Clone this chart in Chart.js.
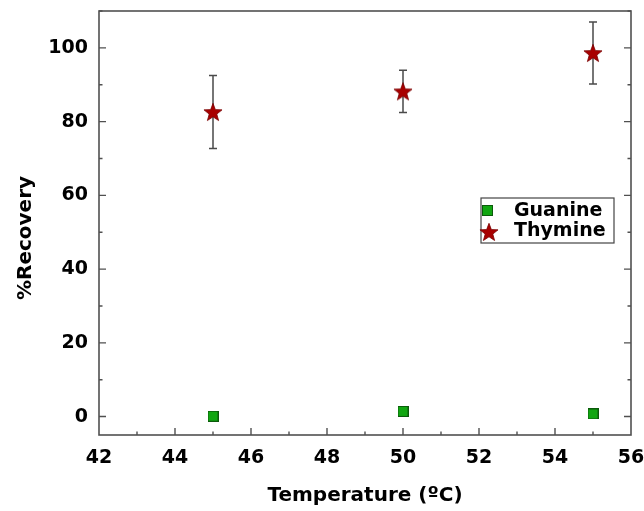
<!DOCTYPE html>
<html>
<head>
<meta charset="utf-8">
<script src="https://cdn.jsdelivr.net/npm/chart.js@4.4.1/dist/chart.umd.min.js"></script>
<style>
html,body{margin:0;padding:0;background:#fff;}
#wrap{width:644px;height:511px;}
</style>
</head>
<body>
<div id="wrap"><canvas id="c" width="644" height="511"></canvas></div>
<script>
// ---- data ----
const temperatures = [45, 50, 55];
const guanineRecovery = [0.1, 1.4, 0.7];
const guanineError = [0.0, 1.0, 1.0];
const thymineRecovery = [82.6, 88.2, 98.6];
const thymineError = [9.9, 5.7, 8.4];
const xTicks = [42, 44, 46, 48, 50, 52, 54, 56];
const yTicks = [0, 20, 40, 60, 80, 100];

const FONT = '"DejaVu Sans", Verdana, sans-serif';

function makeStar(size, fill) {
  const c = document.createElement('canvas');
  c.width = size; c.height = size;
  const g = c.getContext('2d');
  const cx = size / 2, cy = size / 2 + size * 0.04;
  const R = size / 2 - 0.5, r = R * 0.42;
  g.beginPath();
  for (let i = 0; i < 10; i++) {
    const a = -Math.PI / 2 + i * Math.PI / 5;
    const rr = i % 2 === 0 ? R : r;
    const x = cx + rr * Math.cos(a), y = cy + rr * Math.sin(a);
    if (i === 0) g.moveTo(x, y); else g.lineTo(x, y);
  }
  g.closePath();
  g.fillStyle = fill; g.fill();
  g.strokeStyle = '#7a0000'; g.lineWidth = 0.8; g.stroke();
  return c;
}
function makeSquare(size, fill) {
  const c = document.createElement('canvas');
  c.width = size; c.height = size;
  const g = c.getContext('2d');
  g.fillStyle = fill; g.fillRect(0.5, 0.5, size - 1, size - 1);
  g.strokeStyle = '#0b5a0b'; g.lineWidth = 1; g.strokeRect(0.5, 0.5, size - 1, size - 1);
  return c;
}
const starImg = makeStar(20, '#a80000');
const squareImg = makeSquare(11, '#11a611');

const guanineData = temperatures.map((t, i) => ({x: t, y: guanineRecovery[i], e: guanineError[i]}));
const thymineData = temperatures.map((t, i) => ({x: t, y: thymineRecovery[i], e: thymineError[i]}));

const errorBars = {
  id: 'errorBars',
  beforeDatasetsDraw(chart) {
    const g = chart.ctx, ys = chart.scales.y;
    g.save();
    g.strokeStyle = '#4a4a4a'; g.lineWidth = 1.5;
    chart.data.datasets.forEach((ds, di) => {
      const meta = chart.getDatasetMeta(di);
      ds.data.forEach((d, i) => {
        if (!d.e) return;
        const px = meta.data[i].x;
        const top = ys.getPixelForValue(d.y + d.e), bot = ys.getPixelForValue(d.y - d.e);
        g.beginPath();
        g.moveTo(px, top); g.lineTo(px, bot);
        g.moveTo(px - 4, top); g.lineTo(px + 4, top);
        g.moveTo(px - 4, bot); g.lineTo(px + 4, bot);
        g.stroke();
      });
    });
    g.restore();
  }
};

const frame = {
  id: 'frame',
  afterDatasetsDraw(chart) {
    const g = chart.ctx, a = chart.chartArea, xs = chart.scales.x, ys = chart.scales.y;
    g.save();
    g.strokeStyle = '#505050'; g.lineWidth = 1.6;
    g.strokeRect(a.left, a.top, a.right - a.left, a.bottom - a.top);
    g.lineWidth = 1.4;
    g.beginPath();
    for (let v = 43; v < 56; v++) {
      const px = xs.getPixelForValue(v);
      const len = v % 2 === 0 ? 7 : 3.5;
      g.moveTo(px, a.bottom); g.lineTo(px, a.bottom - len);
    }
    for (let v = 0; v <= 110; v += 10) {
      const py = ys.getPixelForValue(v);
      const len = v % 20 === 0 ? 7 : 3.5;
      g.moveTo(a.left, py); g.lineTo(a.left + len, py);
      g.moveTo(a.right, py); g.lineTo(a.right - len, py);
    }
    g.stroke();

    // legend
    g.strokeStyle = '#444'; g.lineWidth = 1.2;
    g.strokeRect(481, 198, 133, 45);
    g.drawImage(squareImg, 482, 205);
    g.drawImage(starImg, 479, 222);
    g.fillStyle = '#000';
    g.font = 'bold 19px ' + FONT;
    g.textAlign = 'left'; g.textBaseline = 'middle';
    g.fillText('Guanine', 514, 211);
    g.fillText('Thymine', 514, 231);

    // axis titles
    g.font = 'bold 20px ' + FONT;
    g.textAlign = 'center'; g.textBaseline = 'middle';
    g.fillText('Temperature (\u00BAC)', (a.left + a.right) / 2, 496);
    g.save();
    g.translate(26, 238);
    g.rotate(-Math.PI / 2);
    g.fillText('%Recovery', 0, 0);
    g.restore();
    g.restore();
  }
};

function zeroPad(s) { s.paddingTop = 0; s.paddingBottom = 0; s.paddingLeft = 0; s.paddingRight = 0; }

new Chart(document.getElementById('c'), {
  type: 'scatter',
  data: {
    datasets: [
      {label: 'Guanine', data: guanineData, pointStyle: squareImg, pointRadius: 6, pointHoverRadius: 6},
      {label: 'Thymine', data: thymineData, pointStyle: starImg, pointRadius: 10, pointHoverRadius: 10}
    ]
  },
  options: {
    responsive: false,
    animation: false,
    events: [],
    layout: {padding: {top: 10, right: 13, left: 0, bottom: 0}},
    plugins: {legend: {display: false}, tooltip: {enabled: false}},
    scales: {
      x: {
        type: 'linear', min: 42, max: 56,
        afterBuildTicks: s => { s.ticks = xTicks.map(v => ({value: v})); },
        afterFit: s => { s.height = 76; zeroPad(s); },
        grid: {display: false, drawTicks: false},
        border: {display: false},
        ticks: {color: '#000', font: {family: FONT, size: 19, weight: 'bold'}, padding: 12, maxRotation: 0, autoSkip: false}
      },
      y: {
        type: 'linear', min: -5, max: 110,
        afterBuildTicks: s => { s.ticks = yTicks.map(v => ({value: v})); },
        afterFit: s => { s.width = 99; zeroPad(s); },
        grid: {display: false, drawTicks: false},
        border: {display: false},
        ticks: {color: '#000', font: {family: FONT, size: 19, weight: 'bold'}, padding: 11, autoSkip: false}
      }
    }
  },
  plugins: [errorBars, frame]
});
</script>
</body>
</html>
